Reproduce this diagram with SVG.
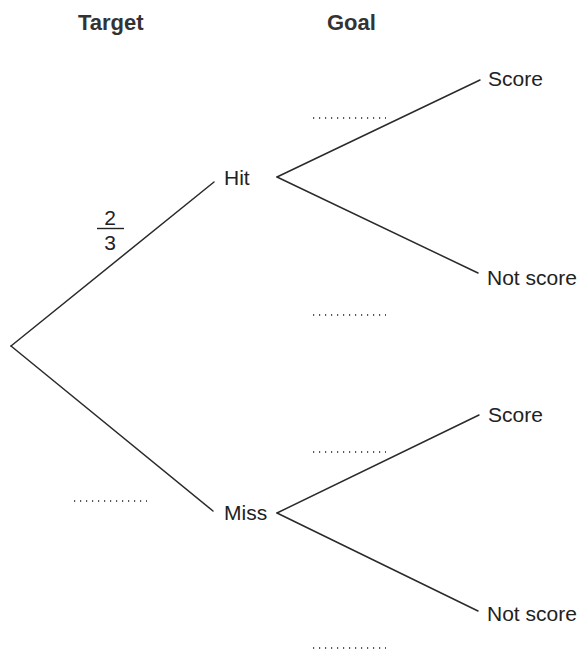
<svg xmlns="http://www.w3.org/2000/svg" width="585" height="653" viewBox="0 0 585 653">
<style>
.t{font-family:"Liberation Sans",Arial,sans-serif;font-size:21px;fill:#222}
.h{font-family:"Liberation Sans",Arial,sans-serif;font-size:22px;font-weight:bold;fill:#333}
.e{stroke:#2a2a2a;stroke-width:1.5;fill:none;stroke-linecap:round}
.d{stroke:#222;stroke-width:1.6;stroke-dasharray:1.2 4.8;fill:none}
</style>
<rect width="585" height="653" fill="#fff"/>
<g id="headers">
<text class="h" x="78" y="30">Target</text>
<text class="h" x="327" y="30">Goal</text>
</g>
<g id="connectors">
<line class="e" x1="11" y1="346" x2="214" y2="182"/>
<line class="e" x1="11" y1="346" x2="213" y2="511"/>
<line class="e" x1="277" y1="177" x2="480" y2="80"/>
<line class="e" x1="277" y1="177" x2="478" y2="273"/>
<line class="e" x1="277" y1="513" x2="479" y2="415"/>
<line class="e" x1="277" y1="513" x2="478" y2="611"/>
</g>
<g id="blanks">
<line class="d" x1="313" y1="118" x2="386" y2="118"/>
<line class="d" x1="313" y1="315" x2="386" y2="315"/>
<line class="d" x1="313" y1="452" x2="386" y2="452"/>
<line class="d" x1="313" y1="648" x2="386" y2="648"/>
<line class="d" x1="74" y1="501" x2="147" y2="501"/>
</g>
<g id="prob-hit">
<text class="t" x="110" y="225" text-anchor="middle">2</text>
<line x1="97" y1="228.5" x2="124" y2="228.5" stroke="#222" stroke-width="1.4"/>
<text class="t" x="110" y="250" text-anchor="middle">3</text>
</g>
<g id="node-hit"><text class="t" x="224" y="185">Hit</text></g>
<g id="node-miss"><text class="t" x="224" y="520">Miss</text></g>
<g id="node-hit-score"><text class="t" x="488" y="86">Score</text></g>
<g id="node-hit-notscore"><text class="t" x="487" y="285">Not score</text></g>
<g id="node-miss-score"><text class="t" x="488" y="422">Score</text></g>
<g id="node-miss-notscore"><text class="t" x="487" y="621">Not score</text></g>
</svg>
